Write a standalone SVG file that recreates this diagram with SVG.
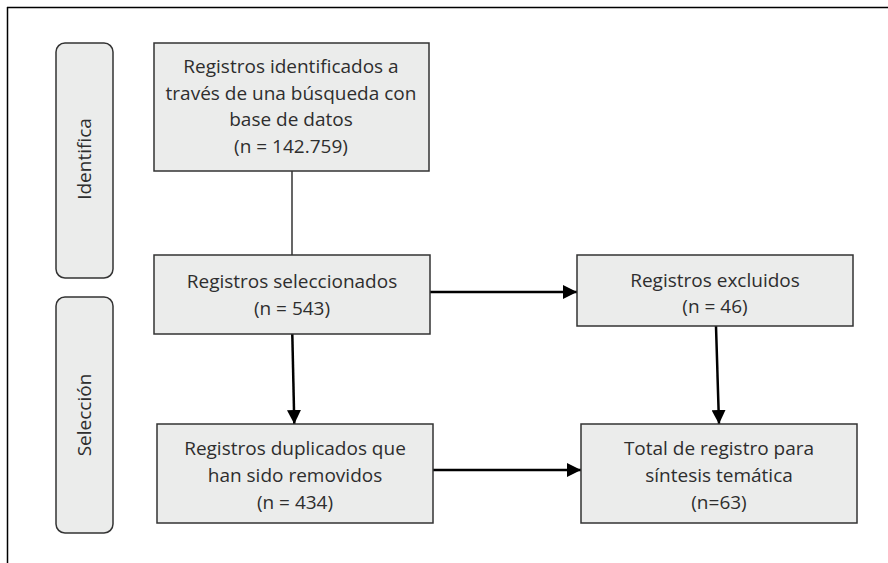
<svg xmlns="http://www.w3.org/2000/svg" width="888" height="563" viewBox="0 0 888 563">
<defs>
<marker id="ah2" viewBox="0 0 14 14" refX="14" refY="7" markerWidth="14" markerHeight="14" markerUnits="userSpaceOnUse" orient="auto">
<path d="M0,0 L14,7 L0,14 z" fill="#000"/>
</marker>
</defs>
<style>
.box{fill:#ebeceb;stroke:#333;stroke-width:1.5}
.side{fill:#ebeceb;stroke:#333;stroke-width:1.5}
text{font-family:"Open Sans","Noto Sans",sans-serif;font-size:19px;fill:#2e2e2e;text-anchor:middle}
.conn{stroke:#000;stroke-width:2.5;fill:none}
.thin{stroke:#000;stroke-width:1.2;fill:none}
</style>
<rect width="888" height="563" fill="#fff"/>
<g id="frame">
<line x1="7" y1="7.5" x2="888" y2="7.5" stroke="#000" stroke-width="1.5"/>
<line x1="7.5" y1="7" x2="7.5" y2="563" stroke="#000" stroke-width="1.5"/>
</g>
<g id="connectors">
<line class="thin" x1="292" y1="171" x2="292" y2="255"/>
<line class="conn" x1="430" y1="292" x2="577" y2="292" marker-end="url(#ah2)"/>
<line class="conn" x1="292.3" y1="334" x2="294.3" y2="424" marker-end="url(#ah2)"/>
<line class="conn" x1="716" y1="326" x2="719" y2="424" marker-end="url(#ah2)"/>
<line class="conn" x1="433" y1="470" x2="581" y2="470" marker-end="url(#ah2)"/>
</g>
<g id="identifica">
<rect class="side" x="56" y="43" width="57" height="235" rx="9"/>
<text transform="translate(91,159) rotate(-90)">Identifica</text>
</g>
<g id="seleccion">
<rect class="side" x="56" y="297" width="57" height="236" rx="9"/>
<text transform="translate(91,415) rotate(-90)">Selección</text>
</g>
<g id="identificados">
<rect class="box" x="154" y="43" width="275" height="128"/>
<text x="291" y="73">Registros identificados a</text>
<text x="291" y="99.5">través de una búsqueda con</text>
<text x="291" y="126">base de datos</text>
<text x="291" y="152.5">(n = 142.759)</text>
</g>
<g id="seleccionados">
<rect class="box" x="154" y="255" width="276" height="79"/>
<text x="292" y="288">Registros seleccionados</text>
<text x="292" y="315">(n = 543)</text>
</g>
<g id="excluidos">
<rect class="box" x="577" y="255" width="276" height="71"/>
<text x="715" y="287">Registros excluidos</text>
<text x="715" y="313">(n = 46)</text>
</g>
<g id="duplicados">
<rect class="box" x="157" y="424" width="276" height="99"/>
<text x="295" y="455">Registros duplicados que</text>
<text x="295" y="482">han sido removidos</text>
<text x="295" y="509">(n = 434)</text>
</g>
<g id="total">
<rect class="box" x="581" y="424" width="276" height="99"/>
<text x="719" y="455">Total de registro para</text>
<text x="719" y="482">síntesis temática</text>
<text x="719" y="509">(n=63)</text>
</g>
</svg>
